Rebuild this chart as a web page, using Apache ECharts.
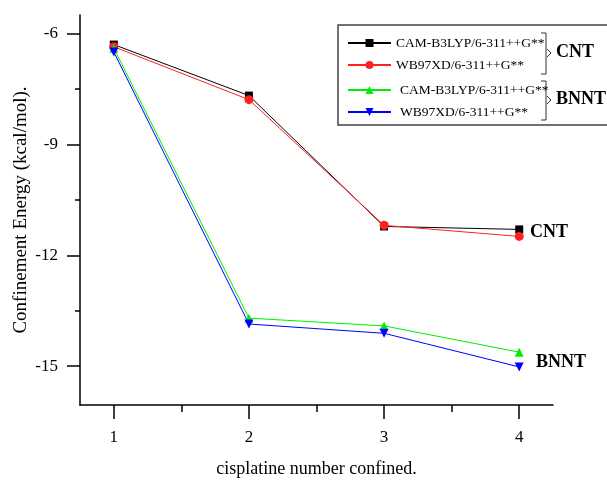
<!DOCTYPE html>
<html>
<head>
<meta charset="utf-8">
<script src="https://cdn.jsdelivr.net/npm/echarts@6/dist/echarts.min.js"></script>
<style>
  html, body { margin: 0; padding: 0; background: #fff; }
  #chart { width: 607px; height: 480px; }
</style>
</head>
<body>
<div id="chart"></div>
<script>
// cisplatine count on x
const xValues = [1, 2, 3, 4];

// confinement energies (kcal/mol)
const cntCam = [-6.30, -7.68, -11.22, -11.30];
const cntWb = [-6.36, -7.79, -11.19, -11.49];
const bnntCam = [-6.40, -13.70, -13.91, -14.62];
const bnntWb = [-6.50, -13.86, -14.11, -15.02];

const xTicks = [1, 2, 3, 4];
const xMinorTicks = [1.5, 2.5, 3.5];
const yTicks = [-15, -12, -9, -6];
const yMinorTicks = [-13.5, -10.5, -7.5];

const serif = 'Liberation Serif';

const pairs = vals => xValues.map((x, i) => [x, vals[i]]);

const makeSeries = (name, color, symbol, data, rotate) => ({
  name,
  type: 'line',
  data: pairs(data),
  symbol,
  symbolSize: symbol === 'rect' ? 8 : 9,
  symbolRotate: rotate || 0,
  itemStyle: { color },
  lineStyle: { color, width: 1 },
});

const legendBase = {
  orient: 'vertical',
  left: 347,
  padding: 0,
  itemWidth: 43,
  itemHeight: 10,
  itemGap: 8,
  textStyle: { fontFamily: serif, fontSize: 13.5, color: '#000' },
  formatter: name => name.split(' ')[0],
};

const chart = echarts.init(document.getElementById('chart'));
chart.setOption({
  animation: false,
  backgroundColor: '#fff',
  grid: { left: 80, top: 15, right: 54, bottom: 75, containLabel: false, outerBoundsMode: 'none' },
  legend: [
    Object.assign({}, legendBase, {
      top: 36,
      data: ['CAM-B3LYP/6-311++G** (CNT)', 'WB97XD/6-311++G** (CNT)'],
    }),
    Object.assign({}, legendBase, {
      top: 83,
      textStyle: Object.assign({}, legendBase.textStyle, { padding: [0, 0, 0, 4] }),
      data: ['CAM-B3LYP/6-311++G** (BNNT)', 'WB97XD/6-311++G** (BNNT)'],
    }),
  ],
  xAxis: [
    {
      type: 'value',
      min: 0.75,
      max: 4.25,
      name: 'cisplatine number confined.',
      nameLocation: 'middle',
      nameGap: 55,
      nameMoveOverlap: false,
      nameTextStyle: { fontFamily: serif, fontSize: 18, color: '#000' },
      axisLine: { lineStyle: { color: '#000', width: 1.5 } },
      axisTick: { customValues: xTicks, length: 14, inside: false, lineStyle: { color: '#000', width: 1.5 } },
      axisLabel: { customValues: xTicks, margin: 24, fontFamily: serif, fontSize: 17, color: '#000' },
      splitLine: { show: false },
    },
    {
      type: 'value',
      min: 0.75,
      max: 4.25,
      position: 'bottom',
      axisLine: { show: false },
      axisTick: { customValues: xMinorTicks, length: 7, lineStyle: { color: '#000', width: 1.5 } },
      axisLabel: { show: false },
      splitLine: { show: false },
    },
  ],
  yAxis: [
    {
      type: 'value',
      min: -16.05,
      max: -5.5,
      name: 'Confinement Energy (kcal/mol).',
      nameLocation: 'middle',
      nameGap: 49,
      nameMoveOverlap: false,
      nameTextStyle: { fontFamily: serif, fontSize: 19, color: '#000' },
      axisLine: { show: true, lineStyle: { color: '#000', width: 1.5 } },
      axisTick: { show: true, customValues: yTicks, length: 13, lineStyle: { color: '#000', width: 1.5 } },
      axisLabel: { customValues: yTicks, margin: 22, fontFamily: serif, fontSize: 17, color: '#000' },
      splitLine: { show: false },
    },
    {
      type: 'value',
      min: -16.05,
      max: -5.5,
      position: 'left',
      axisLine: { show: false },
      axisTick: { show: true, customValues: yMinorTicks, length: 5, lineStyle: { color: '#000', width: 1.5 } },
      axisLabel: { show: false },
      splitLine: { show: false },
    },
  ],
  series: [
    makeSeries('CAM-B3LYP/6-311++G** (CNT)', '#000000', 'rect', cntCam),
    makeSeries('WB97XD/6-311++G** (CNT)', '#ff2020', 'circle', cntWb),
    makeSeries('CAM-B3LYP/6-311++G** (BNNT)', '#00ee00', 'triangle', bnntCam),
    makeSeries('WB97XD/6-311++G** (BNNT)', '#0000ff', 'triangle', bnntWb, 180),
  ],
  graphic: [
    // legend frame
    { type: 'rect', shape: { x: 338, y: 25, width: 290, height: 100 }, style: { fill: 'none', stroke: '#444', lineWidth: 1.5 } },
    // CNT bracket
    { type: 'polyline', shape: { points: [[541, 33], [546, 33], [546, 74], [541, 74]] }, style: { fill: 'none', stroke: '#333', lineWidth: 1 } },
    { type: 'polyline', shape: { points: [[547, 49], [551, 53], [547, 57]] }, style: { fill: 'none', stroke: '#333', lineWidth: 1 } },
    { type: 'text', left: 556, top: 43, style: { text: 'CNT', font: 'bold 18px "Liberation Serif"', fill: '#000' } },
    // BNNT bracket
    { type: 'polyline', shape: { points: [[541, 81], [546, 81], [546, 120], [541, 120]] }, style: { fill: 'none', stroke: '#333', lineWidth: 1 } },
    { type: 'polyline', shape: { points: [[547, 96], [551, 100], [547, 104]] }, style: { fill: 'none', stroke: '#333', lineWidth: 1 } },
    { type: 'text', left: 556, top: 90, style: { text: 'BNNT', font: 'bold 18px "Liberation Serif"', fill: '#000' } },
    // end labels
    { type: 'text', left: 530, top: 223, style: { text: 'CNT', font: 'bold 18px "Liberation Serif"', fill: '#000' } },
    { type: 'text', left: 536, top: 353, style: { text: 'BNNT', font: 'bold 18px "Liberation Serif"', fill: '#000' } },
  ],
});
</script>
</body>
</html>
